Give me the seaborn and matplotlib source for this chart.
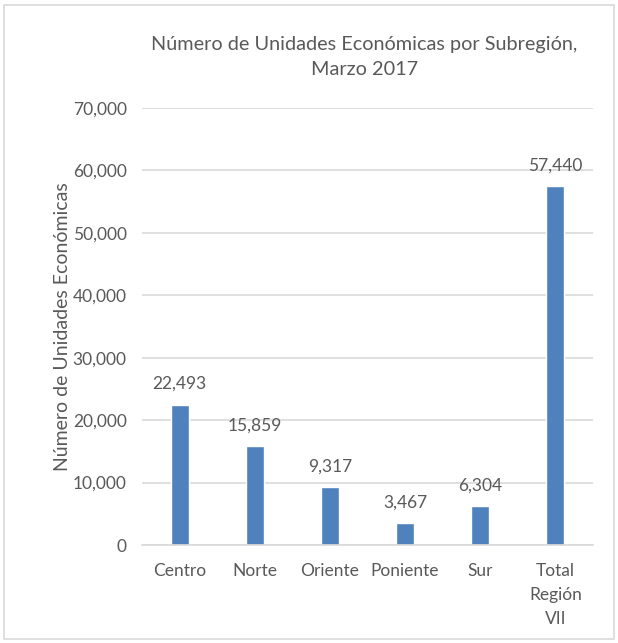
import matplotlib
matplotlib.use("Agg")
import matplotlib.pyplot as plt
import seaborn as sns
import pandas as pd
from matplotlib.patches import Rectangle
from matplotlib.ticker import FuncFormatter

# data
subregiones = ["Centro", "Norte", "Oriente", "Poniente", "Sur", "Total\nRegión\nVII"]
unidades = [22493, 15859, 9317, 3467, 6304, 57440]

df = pd.DataFrame({"subregion": subregiones, "unidades": unidades})

sns.set_theme(style="white")
plt.rcParams["font.family"] = ["Lato", "DejaVu Sans"]
txt = "#595959"

fig = plt.figure(figsize=(6.18, 6.43), dpi=100)
ax = fig.add_axes([0.2298, 0.1524, 0.7297, 0.6796])

sns.barplot(data=df, x="subregion", y="unidades", color="#4F81BD",
            width=0.24, saturation=1, ax=ax)

ax.set_ylim(0, 70000)
ax.set_xlim(-0.5, 5.5)
ax.set_yticks(range(0, 70001, 10000))
ax.yaxis.set_major_formatter(FuncFormatter(lambda v, p: f"{int(v):,}"))
ax.grid(axis="y", color="#D9D9D9", linewidth=1.2)
ax.set_axisbelow(True)
for s in ["top", "right", "left"]:
    ax.spines[s].set_visible(False)
ax.spines["bottom"].set_color("#D9D9D9")
ax.spines["bottom"].set_linewidth(1.2)
ax.tick_params(axis="y", length=0, labelsize=12.5, colors=txt, pad=11)
ax.tick_params(axis="x", length=0, labelsize=12.5, colors=txt, pad=13)
for lbl in ax.get_xticklabels():
    lbl.set_linespacing(1.6)

ax.bar_label(ax.containers[0], labels=[f"{v:,}" for v in unidades],
             padding=9, fontsize=12.5, color=txt)

ax.set_xlabel("")
ax.set_ylabel("Número de Unidades Económicas", fontsize=14, color=txt, labelpad=1)
fig.text(0.59, 0.911, "Número de Unidades Económicas por Subregión,\nMarzo 2017",
         ha="center", va="center", fontsize=14.3, color=txt, linespacing=1.55)

fig.patches.append(Rectangle((0.006, 0.006), 0.988, 0.986, transform=fig.transFigure,
                             fill=False, edgecolor="#D9D9D9", linewidth=1.2))

fig.savefig("out.png", dpi=100)
